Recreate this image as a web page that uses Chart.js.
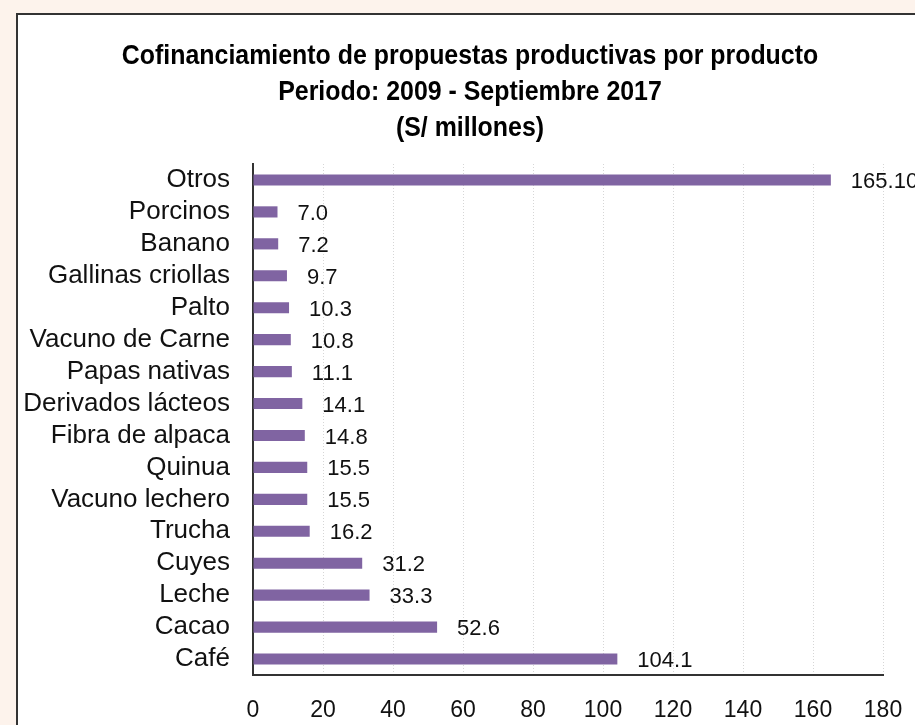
<!DOCTYPE html>
<html>
<head>
<meta charset="utf-8">
<script src="https://cdn.jsdelivr.net/npm/chart.js@4.4.1/dist/chart.umd.min.js"></script>
<style>
  html, body { margin: 0; padding: 0; background: #fdf3ec; }
  #frame {
    position: absolute; left: 16px; top: 13px; width: 920px; height: 730px;
    background: #fff; border-top: 2px solid #333; border-left: 2px solid #333;
  }
  #wrap { position: absolute; left: 0; top: 0; width: 915px; height: 725px; }
</style>
</head>
<body>
<div id="frame"></div>
<div id="wrap"><canvas id="chart" width="915" height="725"></canvas></div>
<script>
"use strict";

// ── Data ────────────────────────────────────────────────────────────────────
const PRODUCTOS = [
  "Otros", "Porcinos", "Banano", "Gallinas criollas", "Palto", "Vacuno de Carne",
  "Papas nativas", "Derivados lácteos", "Fibra de alpaca", "Quinua",
  "Vacuno lechero", "Trucha", "Cuyes", "Leche", "Cacao", "Café",
];
const MONTOS = [165.1, 7.0, 7.2, 9.7, 10.3, 10.8, 11.1, 14.1, 14.8, 15.5, 15.5, 16.2, 31.2, 33.3, 52.6, 104.1];
const ETIQUETAS = ["165.10", "7.0", "7.2", "9.7", "10.3", "10.8", "11.1", "14.1", "14.8", "15.5", "15.5", "16.2", "31.2", "33.3", "52.6", "104.1"];
const TITULO = [
  "Cofinanciamiento de propuestas productivas por producto",
  "Periodo: 2009 - Septiembre 2017",
  "(S/ millones)",
];

const FONT = "'Liberation Sans', Arial, sans-serif";
const BAR_COLOR = "#8064a2";

// ── Value labels at bar ends ────────────────────────────────────────────────
const valueLabels = {
  id: "valueLabels",
  afterDatasetsDraw(chart) {
    const ctx = chart.ctx;
    const meta = chart.getDatasetMeta(0);
    ctx.save();
    ctx.font = `22px ${FONT}`;
    ctx.fillStyle = "#111";
    ctx.textAlign = "left";
    ctx.textBaseline = "middle";
    meta.data.forEach((bar, i) => {
      ctx.fillText(ETIQUETAS[i], bar.x + 20, bar.y + 2);
    });
    ctx.restore();
  },
};

// ── Condensed bold title (no narrow face installed, so squeeze it) ───────────
const narrowTitle = {
  id: "narrowTitle",
  afterDraw(chart) {
    const ctx = chart.ctx;
    ctx.save();
    ctx.font = `bold 28px ${FONT}`;
    ctx.fillStyle = "#000";
    ctx.textAlign = "center";
    ctx.textBaseline = "middle";
    TITULO.forEach((line, i) => {
      ctx.save();
      ctx.translate(470, 56 + i * 36);
      ctx.scale(0.89, 1);
      ctx.fillText(line, 0, 0);
      ctx.restore();
    });
    ctx.restore();
  },
};

// ── Chart ───────────────────────────────────────────────────────────────────
const ctx = document.getElementById("chart").getContext("2d");
new Chart(ctx, {
  type: "bar",
  data: {
    labels: PRODUCTOS,
    datasets: [{
      data: MONTOS,
      backgroundColor: BAR_COLOR,
      borderWidth: 0,
      barPercentage: 0.35,
      categoryPercentage: 1,
    }],
  },
  options: {
    indexAxis: "y",
    responsive: false,
    animation: false,
    layout: { padding: { left: 0, right: 32, top: 164, bottom: 0 } },
    scales: {
      x: {
        min: 0, max: 180,
        // tick padding also widens the side margins, so push labels down with invisible ticks
        ticks: { stepSize: 20, color: "#111", padding: 0, font: { family: FONT, size: 23 } },
        grid: { color: "#d6d6d6", drawTicks: true, tickLength: 22, tickColor: "rgba(0,0,0,0)", lineWidth: 1 },
        border: { color: "#333", width: 2, dash: [1, 2] },
        afterFit: s => { s.height = 50; },
      },
      y: {
        ticks: { color: "#111", padding: 23, font: { family: FONT, size: 26 }, autoSkip: false },
        grid: { display: false, drawTicks: false },
        border: { color: "#333", width: 2 },
        afterFit: s => { s.width = 253; },
      },
    },
    plugins: {
      legend: { display: false },
      tooltip: { enabled: false },
      title: { display: false },
    },
  },
  plugins: [valueLabels, narrowTitle],
});
</script>
</body>
</html>
